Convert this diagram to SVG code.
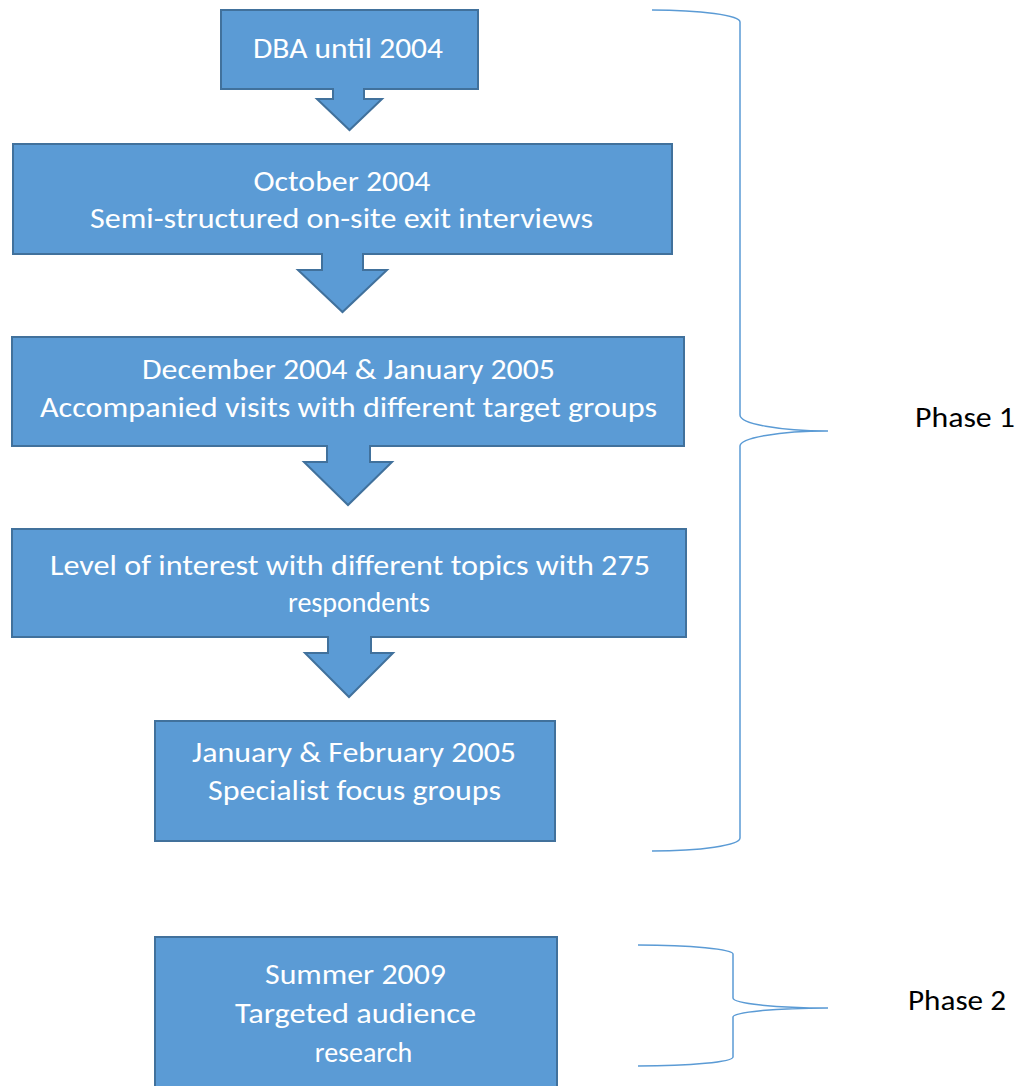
<svg xmlns="http://www.w3.org/2000/svg" width="1024" height="1086" viewBox="0 0 1024 1086">
<style>
.box{fill:#5B9BD5;stroke:#41719C;stroke-width:2;stroke-linejoin:miter}
.t{font-family:Carlito,"Liberation Sans",Arial,sans-serif;font-size:28px;fill:#ffffff;text-anchor:middle}
.lbl{font-family:Carlito,"Liberation Sans",Arial,sans-serif;font-size:28px;fill:#000000;text-anchor:middle}
.brace{fill:none;stroke:#5B9BD5;stroke-width:1.5}
</style>
<rect width="1024" height="1086" fill="#ffffff"/>
<g id="node1">
<path class="box" d="M221,10 H478 V89 H364 V99 H382 L349.5,130 L317,99 H333 V89 H221 Z"/>
<text class="t" x="348" y="58" textLength="190" lengthAdjust="spacingAndGlyphs">DBA until 2004</text>
</g>
<g id="node2">
<path class="box" d="M13,144 H672 V254 H363 V270 H387 L342.5,312 L298,270 H322 V254 H13 Z"/>
<text class="t" x="342" y="191" textLength="177" lengthAdjust="spacingAndGlyphs">October 2004</text>
<text class="t" x="341.5" y="228" textLength="503" lengthAdjust="spacingAndGlyphs">Semi-structured on-site exit interviews</text>
</g>
<g id="node3">
<path class="box" d="M12,337 H684 V446 H370 V462 H392 L348,505 L304,462 H327 V446 H12 Z"/>
<text class="t" x="348.5" y="379" textLength="413" lengthAdjust="spacingAndGlyphs">December 2004 &amp; January 2005</text>
<text class="t" x="348.5" y="417" textLength="617" lengthAdjust="spacingAndGlyphs">Accompanied visits with different target groups</text>
</g>
<g id="node4">
<path class="box" d="M12,529 H686 V637 H371 V653 H393 L349,697 L305,653 H328 V637 H12 Z"/>
<text class="t" x="350" y="575" textLength="600" lengthAdjust="spacingAndGlyphs">Level of interest with different topics with 275</text>
<text class="t" x="359" y="612">respondents</text>
</g>
<g id="node5">
<rect class="box" x="155" y="721" width="400" height="120"/>
<text class="t" x="354" y="762" textLength="324" lengthAdjust="spacingAndGlyphs">January &amp; February 2005</text>
<text class="t" x="354.5" y="800" textLength="293" lengthAdjust="spacingAndGlyphs">Specialist focus groups</text>
</g>
<g id="node6">
<rect class="box" x="155" y="937" width="402" height="160"/>
<text class="t" x="355.5" y="984" textLength="181" lengthAdjust="spacingAndGlyphs">Summer 2009</text>
<text class="t" x="355.5" y="1023" textLength="241" lengthAdjust="spacingAndGlyphs">Targeted audience</text>
<text class="t" x="363.5" y="1062">research</text>
</g>
<g id="connectors">
<path id="brace1" class="brace" d="M652,10 A88,12 0 0 1 740,22 V415 A88,16 0 0 0 828,431 A88,15 0 0 0 740,446 V838 A88,13 0 0 1 652,851"/>
<path id="brace2" class="brace" d="M638,945 A95,9 0 0 1 733,954 V998 A95,10 0 0 0 828,1008 A95,9 0 0 0 733,1017 V1057 A95,9 0 0 1 638,1066"/>
</g>
<g id="phase1">
<text class="lbl" x="965" y="427" textLength="100" lengthAdjust="spacingAndGlyphs">Phase 1</text>
</g>
<g id="phase2">
<text class="lbl" x="957" y="1010" textLength="98" lengthAdjust="spacingAndGlyphs">Phase 2</text>
</g>
</svg>
